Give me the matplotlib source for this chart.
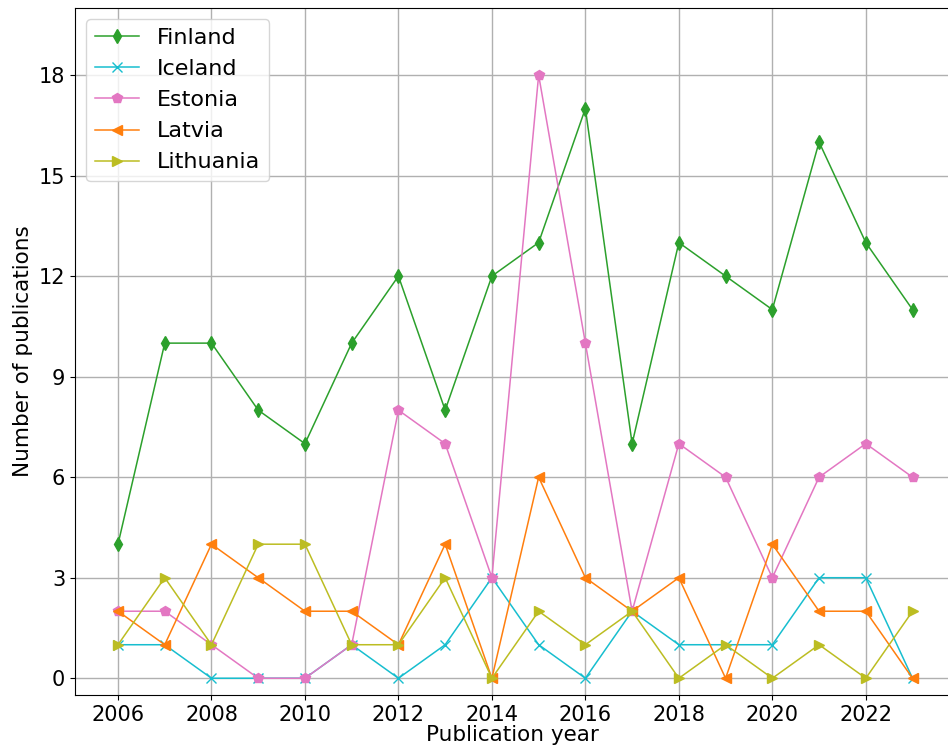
import matplotlib
matplotlib.use("Agg")
import matplotlib.pyplot as plt

years = list(range(2006, 2024))
finland = [4, 10, 10, 8, 7, 10, 12, 8, 12, 13, 17, 7, 13, 12, 11, 16, 13, 11]
iceland = [1, 1, 0, 0, 0, 1, 0, 1, 3, 1, 0, 2, 1, 1, 1, 3, 3, 0]
estonia = [2, 2, 1, 0, 0, 1, 8, 7, 3, 18, 10, 2, 7, 6, 3, 6, 7, 6]
latvia = [2, 1, 4, 3, 2, 2, 1, 4, 0, 6, 3, 2, 3, 0, 4, 2, 2, 0]
lithuania = [1, 3, 1, 4, 4, 1, 1, 3, 0, 2, 1, 2, 0, 1, 0, 1, 0, 2]

series = [
    ("Finland", finland, "tab:green", "d"),
    ("Iceland", iceland, "tab:cyan", "x"),
    ("Estonia", estonia, "tab:pink", "p"),
    ("Latvia", latvia, "tab:orange", "<"),
    ("Lithuania", lithuania, "tab:olive", ">"),
]

fig = plt.figure(figsize=(9.48, 7.55), dpi=100)
ax = fig.add_axes([75/948, 60/755, 874/948, 687/755])

for name, vals, color, marker in series:
    ax.plot(years, vals, color=color, marker=marker, markersize=7, linewidth=1.1, label=name)

ax.set_xticks(range(2006, 2024, 2))
ax.set_yticks(range(0, 19, 3))
ax.set_xlim(2005.08, 2023.78)
ax.set_ylim(-0.5, 20)
ax.grid(True, color="#b0b0b0", linewidth=1)
ax.tick_params(labelsize=15)
ax.set_xlabel("Publication year", fontsize=15.5, labelpad=0)
ax.set_ylabel("Number of publications", fontsize=15.5)
ax.legend(loc="upper left", fontsize=16)

fig.savefig("out.png", dpi=100)
